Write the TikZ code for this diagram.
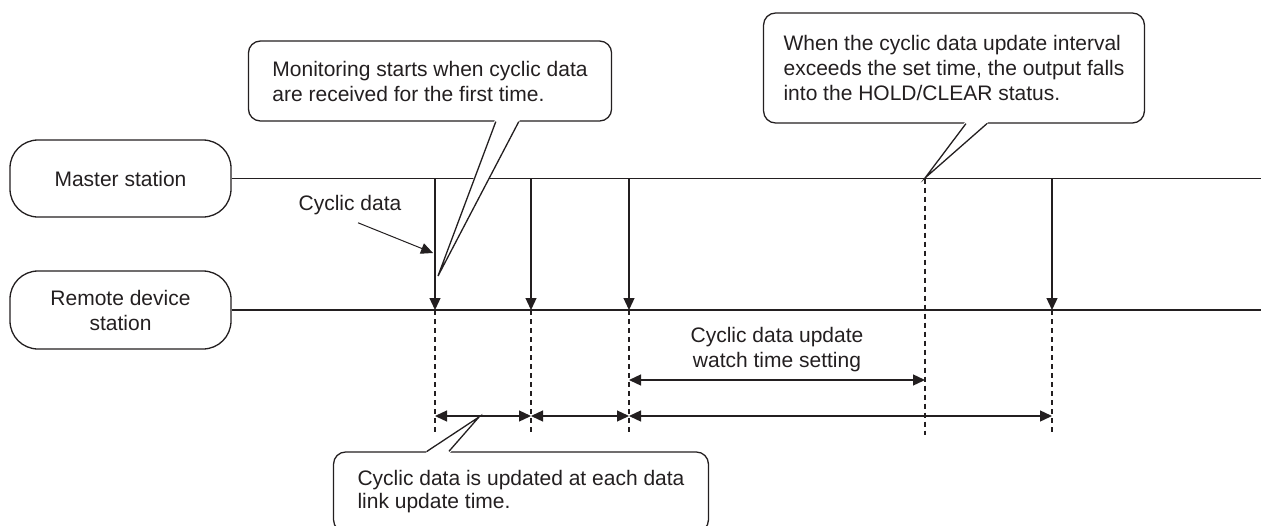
\documentclass[tikz,border=0pt]{standalone}
\usepackage{fontspec}
\setmainfont{Liberation Sans}
\usetikzlibrary{arrows.meta}
\definecolor{ink}{HTML}{231F20}
\begin{document}
\begin{tikzpicture}[x=1pt,y=-1pt,line width=1.3pt,draw=ink,text=ink,font=\fontsize{21}{25}\selectfont,
  station/.style={draw,rounded corners=28pt,align=center,inner sep=0pt,minimum width=221pt,minimum height=77pt},
  callout/.style={draw,rounded corners=12pt,align=left,inner ysep=0pt},
  msg/.style={-{Triangle[length=12pt,width=11pt]}},
  span/.style={{Triangle[length=12pt,width=11pt]}-{Triangle[length=12pt,width=11pt]}},
  guide/.style={line width=1.1pt,dash pattern=on 5pt off 4pt}]
\useasboundingbox (0,0) rectangle (1261,525);
\node[station] (master) at (120.5,178.5) {Master station};
\node[station,minimum height=78pt] (remote) at (120.5,310) {Remote device\\station};
\coordinate (edge) at (1261,0);
\draw (master.east)--(master.east-|edge);
\draw (remote.east)--(remote.east-|edge);
\foreach \x in {435,531,629,1052}{
  \draw[msg] (\x,178.5)--(\x,310);
  \draw[guide] (\x,310)--(\x,435);
}
\draw[guide] (925,178.5)--(925,435);
\node (cyc) at (350,205) {Cyclic data};
\coordinate (cyc end) at (433,253);
\draw[msg,line width=1pt] ([xshift=8pt,yshift=-4pt]cyc.south)--(cyc end);
\node[align=center] (watch) at (777,350) {Cyclic data update\\watch time setting};
\draw[span] (629,380)--(925,380);
\draw[span] (435,416)--(531,416);
\draw[span] (531,416)--(629,416);
\draw[span] (629,416)--(1052,416);
\node[callout,inner xsep=24pt,minimum height=80pt] (mon) at (430,81)
  {Monitoring starts when cyclic data\\are received for the first time.};
\coordinate (mon tip) at (438,276);
\fill[white] ([xshift=247pt,yshift=1.5pt]mon.south west)--(mon tip)--([xshift=272pt,yshift=1.5pt]mon.south west)--cycle;
\draw ([xshift=248pt]mon.south west)--(mon tip)--([xshift=271pt]mon.south west);
\node[callout,inner xsep=20pt,minimum height=110pt] (hold) at (954,68)
  {When the cyclic data update interval\\exceeds the set time, the output falls\\into the HOLD/CLEAR status.};
\coordinate (hold tip) at (925,178);
\fill[white] ([xshift=202pt,yshift=1.5pt]hold.south west)--(hold tip)--([xshift=225pt,yshift=1.5pt]hold.south west)--cycle;
\draw ([xshift=203pt]hold.south west)--(hold tip)--([xshift=224pt]hold.south west);
\node[callout,inner xsep=24pt,minimum height=80pt,font=\fontsize{21}{23}\selectfont] (upd) at (521,492)
  {Cyclic data is updated at each data\\link update time.};
\coordinate (upd tip) at (479,417);
\fill[white] ([xshift=93pt,yshift=-1.5pt]upd.north west)--(upd tip)--([xshift=117pt,yshift=-1.5pt]upd.north west)--cycle;
\draw ([xshift=94pt]upd.north west)--(upd tip)--([xshift=116pt]upd.north west);
\end{tikzpicture}
\end{document}
